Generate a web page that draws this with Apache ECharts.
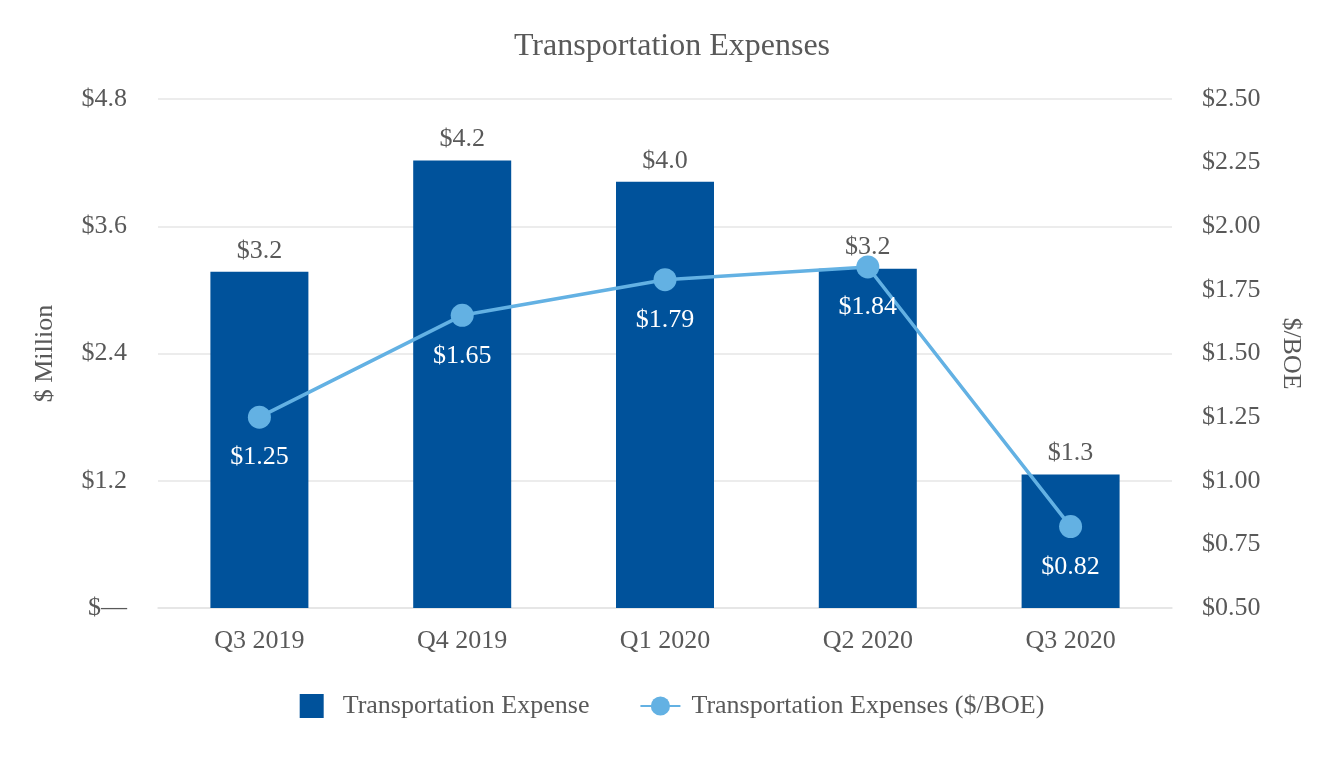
<!DOCTYPE html>
<html>
<head>
<meta charset="utf-8">
<script src="https://cdn.jsdelivr.net/npm/echarts@6/dist/echarts.min.js"></script>
<style>html,body{margin:0;padding:0;background:#fff;}#c{width:1344px;height:760px;}</style>
</head>
<body>
<div id="c"></div>
<script>
const categories = ['Q3 2019', 'Q4 2019', 'Q1 2020', 'Q2 2020', 'Q3 2020'];
const expenseMillion = [3.17, 4.22, 4.02, 3.2, 1.26];
const expenseLabels = ['$3.2', '$4.2', '$4.0', '$3.2', '$1.3'];
const perBoe = [1.25, 1.65, 1.79, 1.84, 0.82];
const leftTicks = [0, 1.2, 2.4, 3.6, 4.8];
const rightTicks = [0.5, 0.75, 1.0, 1.25, 1.5, 1.75, 2.0, 2.25, 2.5];

const FONT = '"Liberation Serif", "Times New Roman", serif';
const TXT = '#595959';
const FS = 26;
const chart = echarts.init(document.getElementById('c'), null, {renderer: 'canvas'});
chart.setOption({
  backgroundColor: '#fff',
  textStyle: {fontFamily: FONT},
  title: {
    text: 'Transportation Expenses', left: 'center', top: 26,
    textStyle: {fontFamily: FONT, fontSize: 32, fontWeight: 'normal', color: TXT}
  },
  legend: {
    bottom: 36, left: 'center', itemGap: 50, itemWidth: 40, itemHeight: 24,
    textStyle: {fontFamily: FONT, fontSize: FS, color: TXT, padding: [0, 0, 0, 6]},
    data: [
      {name: 'Transportation Expense', icon: 'path://M0,0L1,0L1,1L0,1Z'},
      {name: 'Transportation Expenses ($/BOE)'}
    ]
  },
  grid: {left: 158, right: 172, top: 99, bottom: 152},
  xAxis: {
    type: 'category', data: categories,
    axisLine: {show: true, lineStyle: {color: '#e3e3e3', width: 1.5}},
    axisTick: {show: false},
    axisLabel: {fontFamily: FONT, fontSize: FS, color: TXT, margin: 20}
  },
  yAxis: [
    {
      type: 'value', min: leftTicks[0], max: leftTicks[leftTicks.length - 1], interval: 1.2,
      name: '$ Million', nameLocation: 'middle', nameGap: 100, nameRotate: 90,
      nameTextStyle: {fontFamily: FONT, fontSize: FS, color: TXT},
      axisLine: {show: false}, axisTick: {show: false},
      splitLine: {lineStyle: {color: '#e6e6e6', width: 1.5}},
      axisLabel: {fontFamily: FONT, fontSize: FS, color: TXT, margin: 31,
        formatter: v => v === 0 ? '$\u2014' : '$' + v.toFixed(1)}
    },
    {
      type: 'value', min: rightTicks[0], max: rightTicks[rightTicks.length - 1], interval: 0.25,
      name: '$/BOE', nameLocation: 'middle', nameGap: 106, nameRotate: -90,
      nameTextStyle: {fontFamily: FONT, fontSize: FS, color: TXT},
      axisLine: {show: false}, axisTick: {show: false},
      splitLine: {show: false},
      axisLabel: {fontFamily: FONT, fontSize: FS, color: TXT, margin: 30,
        formatter: v => '$' + v.toFixed(2)}
    }
  ],
  series: [
    {
      name: 'Transportation Expense', type: 'bar', yAxisIndex: 0,
      data: expenseMillion, barWidth: 98,
      itemStyle: {color: '#00529B'},
      label: {show: true, position: 'top', distance: 8, fontFamily: FONT, fontSize: FS, color: TXT,
        formatter: p => expenseLabels[p.dataIndex]}
    },
    {
      name: 'Transportation Expenses ($/BOE)', type: 'line', yAxisIndex: 1,
      data: perBoe, symbol: 'circle', symbolSize: 23,
      lineStyle: {color: '#63B1E3', width: 3.5},
      itemStyle: {color: '#63B1E3'},
      label: {show: true, position: 'bottom', distance: 16, fontFamily: FONT, fontSize: FS, color: '#ffffff',
        formatter: p => '$' + p.value.toFixed(2)}
    }
  ]
});
</script>
</body>
</html>
